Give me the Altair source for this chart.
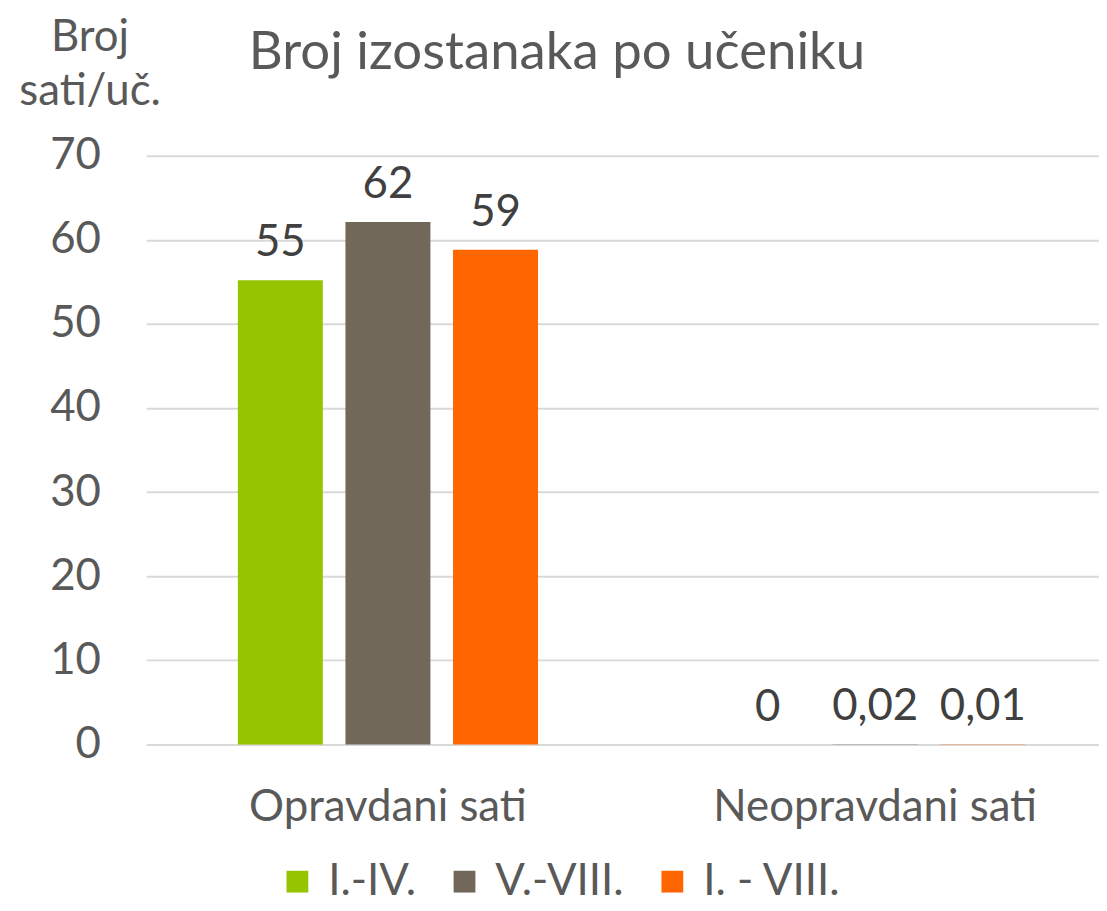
import altair as alt
import pandas as pd

categories = ["Opravdani sati", "Neopravdani sati"]
groups = ["I.-IV.", "V.-VIII.", "I. - VIII."]
opravdani = [55.2, 62.1, 58.8]
neopravdani = [0.0, 0.02, 0.01]
labels_opravdani = ["55", "62", "59"]
labels_neopravdani = ["0", "0,02", "0,01"]
colors = ["#96C400", "#71685A", "#FF6600"]

rows = []
for g, v, l in zip(groups, opravdani, labels_opravdani):
    rows.append({"kat": categories[0], "grupa": g, "vrijednost": v, "oznaka": l})
for g, v, l in zip(groups, neopravdani, labels_neopravdani):
    rows.append({"kat": categories[1], "grupa": g, "vrijednost": v, "oznaka": l})
df = pd.DataFrame(rows)

FONT = "Lato"
FS = 44

x = alt.X("kat:N", sort=categories, title=None,
          scale=alt.Scale(paddingInner=0.384, paddingOuter=0.188, range=[0, 976]),
          axis=alt.Axis(labelAngle=0, labelFontSize=FS, labelColor="#595959",
                        labelPadding=42, labelLimit=0, ticks=False, domainColor="#D9D9D9",
                        domainWidth=2, labelFont=FONT))
xo = alt.XOffset("grupa:N", sort=groups,
                 scale=alt.Scale(paddingInner=0.21, paddingOuter=0))
y = alt.Y("vrijednost:Q", scale=alt.Scale(domain=[0, 70]),
          axis=alt.Axis(values=list(range(0, 71, 10)), title=["Broj", "sati/uč."],
                        titleAngle=0, titleX=-57, titleY=-106, titleAlign="center",
                        titleBaseline="alphabetic", titleLineHeight=55,
                        titleFontSize=FS, titleFontWeight="normal", titleColor="#595959",
                        titleFont=FONT,
                        labelFontSize=FS, labelColor="#595959", labelPadding=46,
                        labelFont=FONT, ticks=False, domain=False,
                        gridColor="#D9D9D9", gridWidth=2))

bars = alt.Chart(df).mark_bar().encode(
    x=x, xOffset=xo, y=y,
    color=alt.Color("grupa:N", sort=groups,
                    scale=alt.Scale(domain=groups, range=colors),
                    legend=alt.Legend(title=None, orient="none", direction="horizontal",
                                      legendX=130, legendY=708, symbolType="square",
                                      symbolSize=480, symbolStrokeWidth=0,
                                      labelFontSize=FS, labelColor="#595959",
                                      labelFont=FONT, labelOffset=9, columnPadding=26,
                                      symbolOpacity=1)),
)

text = alt.Chart(df).mark_text(fontSize=FS, color="#404040", baseline="alphabetic",
                               dy=-24, font=FONT).encode(
    x=x, xOffset=xo, y="vrijednost:Q", text="oznaka:N"
)

chart = (bars + text).properties(
    width=958, height=592,
    title=alt.TitleParams("Broj izostanaka po učeniku", fontSize=53, color="#595959",
                          fontWeight="normal", font=FONT, dx=-66, offset=0, dy=107,
                          baseline="alphabetic"),
    autosize=alt.AutoSizeParams(type="none"),
    padding={"left": 139, "top": 146, "right": 0, "bottom": 157},
).configure_view(stroke=None)

chart.save("out.html", embed_options={"renderer": "svg", "actions": False})
